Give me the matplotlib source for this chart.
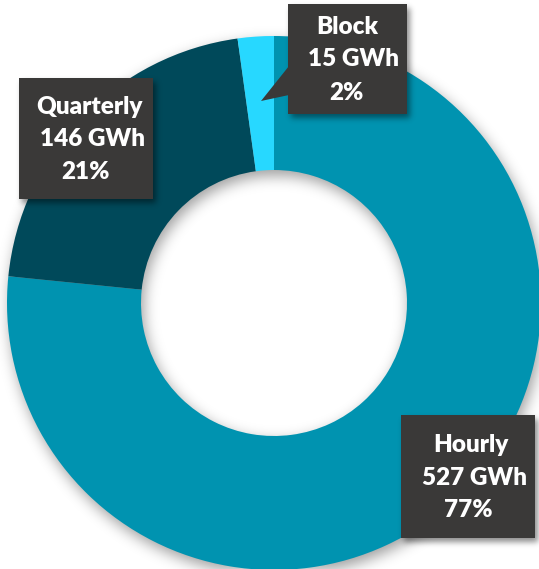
import numpy as np
import matplotlib
matplotlib.use("Agg")
import matplotlib.pyplot as plt
from matplotlib.patches import Rectangle, Polygon

# data
categories = ["Hourly", "Quarterly", "Block"]
energy_gwh = [527, 146, 15]
colors = ["#0093B0", "#00495A", "#27D8FF"]

W, H = 539, 569
cx, cy = 274, 303          # donut centre (pixels, from top)
R, r = 267, 133            # outer / inner radius in pixels

# label boxes: (left, top, right, bottom) in pixels from top-left
boxes = {
    "Hourly": (401, 415, 535, 538),
    "Quarterly": (19, 78, 153, 199),
    "Block": (288, 4, 407, 114),
}
# per-line text centres (x, y) in pixels
line_pos = {
    "Hourly": [(471, 445), (474, 478), (468, 510)],
    "Quarterly": [(89, 107), (92, 139), (86, 172)],
    "Block": [(347, 27), (353, 59), (346, 93)],
}


def blur(img, sigma):
    k = np.arange(-3 * sigma, 3 * sigma + 1)
    g = np.exp(-k ** 2 / (2.0 * sigma ** 2))
    g /= g.sum()
    out = np.array([np.convolve(row, g, mode="same") for row in img])
    out = np.array([np.convolve(col, g, mode="same") for col in out.T]).T
    return out


fig = plt.figure(figsize=(W / 100, H / 100), dpi=100)
ax = fig.add_axes([0, 0, 1, 1])

# soft shadow under the ring
yy, xx = np.mgrid[0:H, 0:W]
d = np.hypot(xx - cx - 2, yy - cy - 5)
ring = ((d <= R) & (d >= r)).astype(float)
sh = blur(ring, 7)
img = np.zeros((H, W, 4))
img[..., 3] = 0.38 * sh
ax.imshow(img, extent=(0, W, 0, H), origin="upper", zorder=0, interpolation="bilinear")

ax.pie(energy_gwh, colors=colors, startangle=90, counterclock=False,
       radius=R, center=(cx, H - cy),
       wedgeprops=dict(width=R - r, linewidth=0))

# shadow under label boxes
bmask = np.zeros((H, W))
for name, (x0, y0, x1, y1) in boxes.items():
    bmask[y0 + 4:y1 + 4, x0 + 3:x1 + 3] = 1.0
bsh = blur(bmask, 3)
bimg = np.zeros((H, W, 4))
bimg[..., 3] = 0.45 * bsh
ax.imshow(bimg, extent=(0, W, 0, H), origin="upper", zorder=2, interpolation="bilinear")

total = sum(energy_gwh)
box_color = "#3A3938"
for name, val in zip(categories, energy_gwh):
    x0, y0, x1, y1 = boxes[name]
    ax.add_patch(Rectangle((x0, H - y1), x1 - x0, y1 - y0,
                           facecolor=box_color, edgecolor="none", zorder=3))
    lines = [name, f"{val} GWh", f"{round(100 * val / total)}%"]
    for txt, (tx, ty) in zip(lines, line_pos[name]):
        ax.text(tx, H - ty, txt, ha="center", va="center", color="white",
                fontsize=17.5, fontweight="heavy", family="Lato", zorder=4)

# callout pointer for the small Block slice
ax.add_patch(Polygon([(289, H - 66), (261, H - 101), (289, H - 95)],
                     closed=True, facecolor=box_color, edgecolor="none", zorder=3))

ax.set_xlim(0, W)
ax.set_ylim(0, H)
ax.set_aspect("auto")
ax.axis("off")
fig.savefig("out.png", dpi=100)
